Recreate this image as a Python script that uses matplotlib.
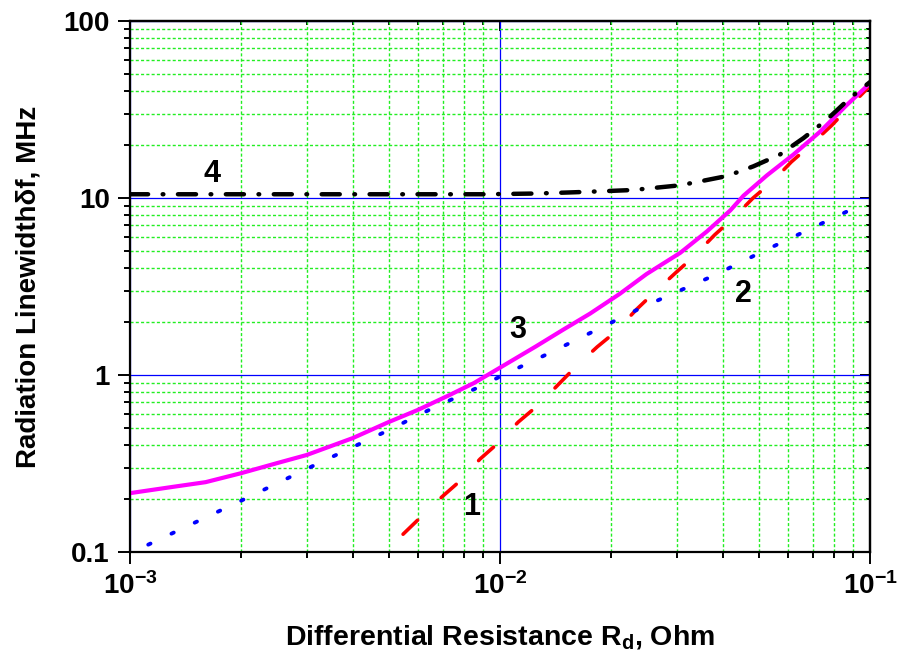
import matplotlib

matplotlib.use("Agg")
import matplotlib.pyplot as plt
import numpy as np
from matplotlib.ticker import LogLocator, NullFormatter

plt.rcParams["font.family"] = ["Liberation Sans", "DejaVu Sans"]
plt.rcParams["font.weight"] = "bold"
plt.rcParams["mathtext.fontset"] = "custom"
plt.rcParams["mathtext.rm"] = "Liberation Sans:bold"
plt.rcParams["mathtext.bf"] = "Liberation Sans:bold"
plt.rcParams["lines.scale_dashes"] = False

# Curve 1: red dashed
r_d_1 = [0.00547, 0.00608, 0.00697, 0.0078, 0.00883, 0.00989, 0.0112, 0.0127,
         0.01435, 0.016, 0.0183, 0.0205, 0.0234, 0.026, 0.030, 0.0333, 0.038,
         0.0427, 0.0483, 0.0543, 0.0613, 0.0689, 0.0789, 0.0873, 0.1]
df_1 = [0.126, 0.156, 0.205, 0.252, 0.335, 0.413, 0.542, 0.677, 0.88, 1.11,
        1.44, 1.75, 2.35, 2.9, 3.82, 4.64, 6.18, 7.7, 10.0, 12.3, 16.0, 19.8,
        25.8, 32.2, 43.0]

# Curve 2: blue dotted
r_d_2 = [0.00112, 0.00207, 0.0032, 0.00495, 0.0066, 0.0089, 0.0102, 0.0136,
         0.0243, 0.0381, 0.051, 0.068, 0.092]
df_2 = [0.11, 0.202, 0.314, 0.483, 0.652, 0.867, 1.0, 1.33, 2.42, 3.67, 4.96,
        6.6, 8.9]

# Curve 3: magenta solid
r_d_3 = [0.001, 0.0013, 0.0016, 0.002, 0.0025, 0.003, 0.004, 0.005, 0.006,
         0.0073, 0.0085, 0.01, 0.0125, 0.0148, 0.0175, 0.0211, 0.0249, 0.0307,
         0.0362, 0.0419, 0.0455, 0.0526, 0.0621, 0.0733, 0.0865, 0.1]
df_3 = [0.215, 0.233, 0.248, 0.279, 0.318, 0.353, 0.44, 0.542, 0.635, 0.77,
        0.90, 1.1, 1.45, 1.8, 2.22, 2.88, 3.72, 4.9, 6.46, 8.5, 10.3, 13.4,
        17.6, 23.7, 33.5, 44.5]

# Curve 4: black dash-dot
r_d_4 = [0.001, 0.002, 0.004, 0.006, 0.009, 0.0125, 0.0154, 0.0185, 0.0229,
         0.0307, 0.041, 0.0484, 0.0571, 0.0661, 0.0764, 0.0883, 0.1]
df_4 = [10.5, 10.5, 10.5, 10.5, 10.5, 10.6, 10.75, 10.9, 11.1, 11.8, 13.3,
        15.1, 17.6, 21.8, 27.7, 36.7, 45.2]

xticks = [1e-3, 1e-2, 1e-1]
xtick_labels = [r"$\mathbf{10^{-3}}$", r"$\mathbf{10^{-2}}$", r"$\mathbf{10^{-1}}$"]
yticks = [0.1, 1, 10, 100]
ytick_labels = ["0.1", "1", "10", "100"]

fig = plt.figure(figsize=(8.98, 6.59), dpi=100)
ax = fig.add_axes([0.1448, 0.1624, 0.8240, 0.8057])
ax.set_xscale("log")
ax.set_yscale("log")
ax.set_xlim(1e-3, 1e-1)
ax.set_ylim(0.1, 100)

minor_loc = dict(base=10, subs=np.arange(2, 10))
ax.xaxis.set_minor_locator(LogLocator(**minor_loc))
ax.yaxis.set_minor_locator(LogLocator(**minor_loc))
ax.xaxis.set_minor_formatter(NullFormatter())
ax.yaxis.set_minor_formatter(NullFormatter())
ax.set_xticks(xticks, xtick_labels)
ax.set_yticks(yticks, ytick_labels)

# grid: green dotted minor, blue solid major
ax.grid(which="minor", color="#22ee22", lw=1.0, ls=(0, (2.2, 1.6)))
ax.grid(which="major", color="#0000ff", lw=0.9, ls="-")
ax.set_axisbelow(True)

ax.tick_params(which="both", direction="out", top=False, right=False,
               width=1.4, labelsize=20, colors="black")
ax.tick_params(which="major", length=8.6, pad=6)
ax.tick_params(which="minor", length=4.6)
for s in ax.spines.values():
    s.set_linewidth(1.6)

# mirrored ticks on the top and right, pointing inwards
top = ax.secondary_xaxis("top", functions=(lambda v: v, lambda v: v))
right = ax.secondary_yaxis("right", functions=(lambda v: v, lambda v: v))
for sec, axis in ((top, top.xaxis), (right, right.yaxis)):
    axis.set_major_locator(LogLocator(base=10))
    axis.set_minor_locator(LogLocator(**minor_loc))
    axis.set_major_formatter(NullFormatter())
    axis.set_minor_formatter(NullFormatter())
    sec.tick_params(which="both", direction="in", width=1.4)
    sec.tick_params(which="major", length=7)
    sec.tick_params(which="minor", length=3.2)
    for s in sec.spines.values():
        s.set_linewidth(1.6)

l1, = ax.plot(r_d_1, df_1, color="#ff0000", lw=2.6, dash_capstyle="round")
l1.set_dashes([14.5, 23.5])
l2, = ax.plot(r_d_2, df_2, color="#0000ff", lw=2.8, dash_capstyle="round")
l2.set_dashes([1.8, 16.7])
ax.plot(r_d_3, df_3, color="#ff00ff", lw=3.0, solid_capstyle="butt",
        solid_joinstyle="round")
l4, = ax.plot(r_d_4, df_4, color="black", lw=3.2, dash_capstyle="round")
l4.set_dashes([13, 10.5, 0.5, 10.5])

label_kw = dict(fontsize=22, fontweight="bold", ha="center", va="baseline")
ax.text(0.00167, 12.3, "4", **label_kw)
ax.text(0.0112, 1.62, "3", **label_kw)
ax.text(0.0454, 2.585, "2", **label_kw)
ax.text(0.00839, 0.162, "1", **label_kw)

ax.set_xlabel(r"Differential Resistance R$_{\mathrm{d}}$, Ohm", fontsize=20.5,
              fontweight="bold")
ax.set_ylabel("Radiation Linewidthδf, MHz", fontsize=20, fontweight="bold")
ax.xaxis.set_label_coords(0.5, -0.135)
ax.yaxis.set_label_coords(-0.12, 0.5)

fig.savefig("out.png", dpi=100)
